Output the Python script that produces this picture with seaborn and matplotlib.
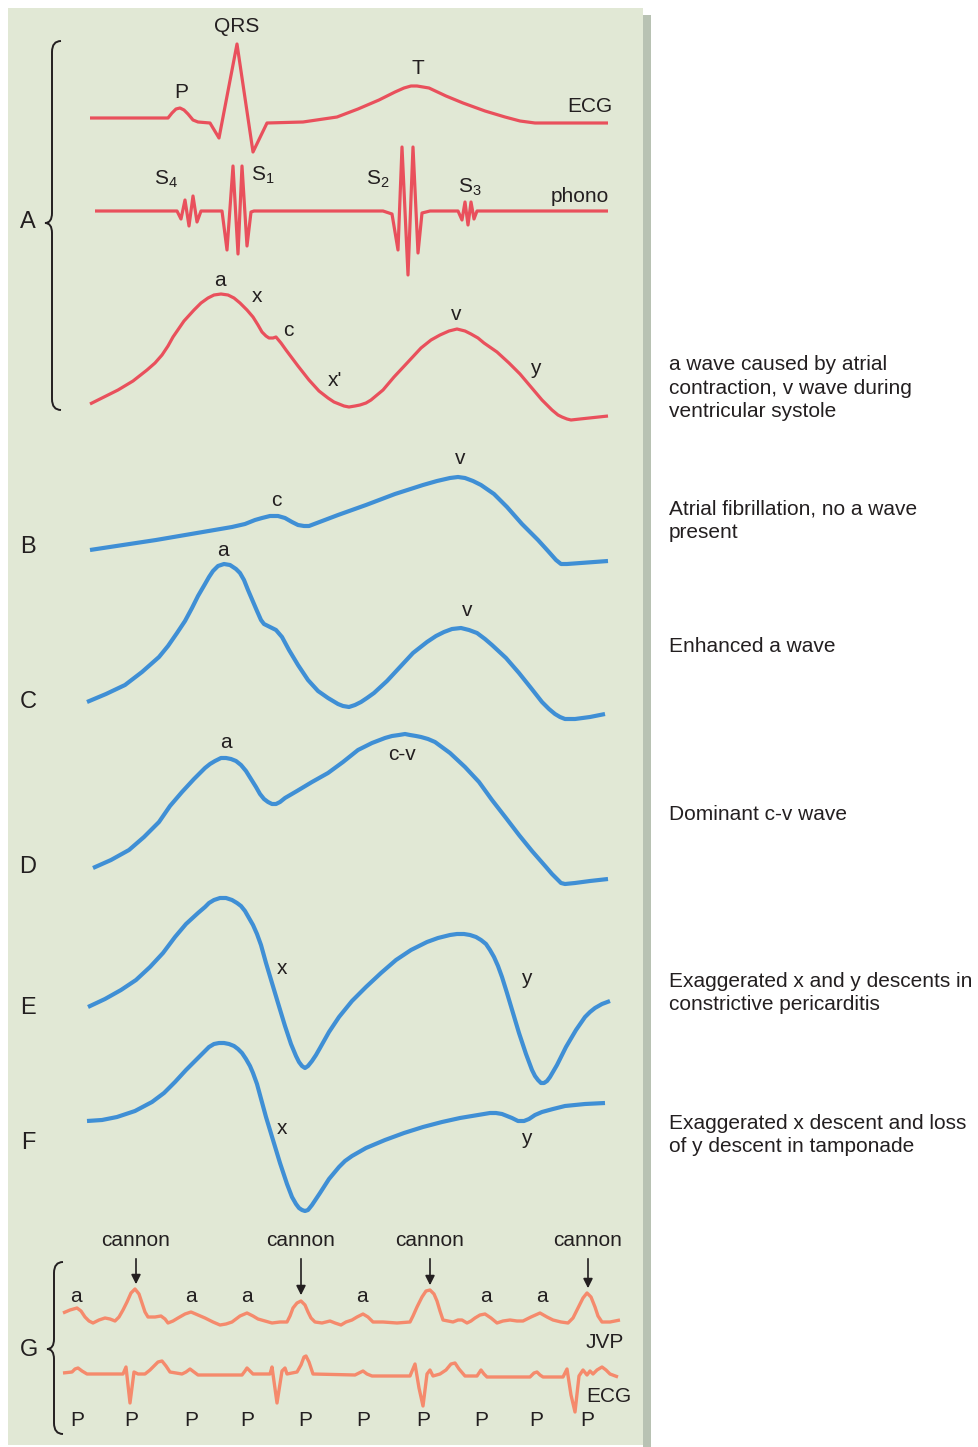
import matplotlib.pyplot as plt
import matplotlib.patches as mpatches
from matplotlib.path import Path
import seaborn as sns

sns.set_theme(style="white")
plt.rcParams["font.family"] = ["Liberation Sans", "DejaVu Sans"]

RED = "#e9505c"
BLUE = "#3f8fd5"
ORANGE = "#f58a6c"
PANEL = "#e1e8d5"
SHADOW = "#b8c2b3"
INK = "#231f20"

# traces as (x, y) pixel pairs

# ---- panel A: ECG, phonocardiogram, normal venous pulse
ecg_a = [(90, 118), (168, 118), (172, 113), (176, 109), (180, 108), (184, 110), (188, 114), (193, 120),
         (198, 122), (210, 123), (219, 138), (237, 44), (253, 152), (267, 123), (303, 122), (337, 117),
         (358, 109), (379, 100), (395, 92), (404, 88), (411, 86), (417, 86), (423, 87), (429, 88),
         (446, 96), (463, 103), (485, 111), (505, 117), (520, 121), (535, 123), (608, 123)]

phono_a = [(95, 211), (177, 211), (181, 219), (185, 200), (189, 226), (193, 196), (197, 222), (201, 211),
           (222, 211), (227, 250), (233, 166), (238, 254), (242, 166), (247, 246), (251, 212), (254, 211),
           (383, 211), (392, 214), (398, 250), (402, 147), (408, 275), (413, 147), (418, 253), (422, 213),
           (430, 211), (458, 211), (462, 220), (465, 202), (468, 225), (471, 202), (474, 219), (477, 211),
           (608, 211)]

jvp_a = [(90, 404), (104, 397), (118, 390), (133, 381), (147, 370), (155, 363), (162, 355), (168, 346),
         (173, 337), (184, 321), (194, 310), (201, 303), (208, 298), (214, 295), (221, 294), (228, 295),
         (234, 298), (240, 303), (247, 310), (253, 317), (258, 325), (262, 332), (266, 336), (269, 338),
         (273, 338), (276, 337), (281, 343), (286, 350), (298, 366), (309, 380), (319, 391), (328, 398),
         (334, 402), (339, 404), (344, 406), (349, 407), (355, 406), (360, 405), (366, 403), (371, 400),
         (377, 395), (383, 390), (394, 377), (408, 362), (421, 348), (431, 340), (440, 335), (449, 331),
         (457, 329), (465, 331), (471, 334), (478, 338), (484, 343), (497, 352), (509, 363), (520, 374),
         (531, 387), (542, 400), (552, 410), (558, 415), (562, 417), (567, 419), (571, 420), (580, 419),
         (608, 416)]

# ---- B: atrial fibrillation
trace_b = [(90, 550), (156, 540), (232, 527), (245, 524), (255, 520), (262, 518), (270, 516), (278, 516),
           (285, 518), (292, 522), (298, 525), (304, 526), (309, 526), (338, 515), (366, 505), (395, 494),
           (423, 485), (437, 481), (450, 478), (458, 477), (465, 478), (473, 481), (481, 485), (494, 494),
           (507, 507), (522, 524), (538, 540), (548, 551), (556, 560), (561, 564), (567, 564), (608, 561)]

# ---- C: enhanced a wave
trace_c = [(87, 702), (106, 694), (125, 685), (142, 672), (159, 657), (168, 646), (177, 633), (185, 621),
           (192, 608), (198, 596), (205, 584), (209, 577), (213, 571), (218, 566), (224, 564), (230, 565),
           (236, 569), (240, 573), (244, 580), (248, 590), (251, 597), (257, 611), (261, 620), (264, 624),
           (270, 627), (276, 630), (282, 637), (289, 650), (298, 665), (308, 680), (318, 691), (328, 698),
           (333, 701), (338, 704), (343, 706), (349, 707), (355, 705), (361, 702), (367, 698), (374, 693),
           (387, 681), (400, 667), (413, 653), (427, 642), (436, 636), (444, 632), (452, 629), (461, 628),
           (469, 630), (477, 633), (485, 639), (492, 645), (506, 658), (519, 673), (531, 688), (542, 702),
           (549, 709), (555, 714), (560, 717), (565, 719), (575, 719), (590, 717), (605, 714)]

# ---- D: dominant c-v wave
trace_d = [(93, 868), (111, 860), (129, 850), (144, 837), (159, 822), (170, 806), (182, 792), (194, 779),
           (205, 768), (210, 764), (215, 761), (221, 758), (226, 758), (231, 759), (236, 761), (241, 765),
           (246, 771), (251, 779), (256, 787), (260, 794), (264, 799), (268, 802), (272, 804), (276, 804),
           (280, 802), (285, 798), (297, 791), (312, 782), (328, 773), (343, 762), (358, 750), (372, 743),
           (385, 738), (392, 736), (399, 735), (405, 734), (410, 735), (416, 736), (421, 737), (428, 739),
           (435, 742), (450, 753), (465, 767), (479, 782), (492, 800), (506, 818), (519, 835), (532, 851),
           (546, 867), (552, 874), (557, 879), (561, 883), (565, 884), (575, 883), (590, 881), (608, 879)]

# ---- E: constrictive pericarditis
trace_e = [(88, 1007), (105, 999), (121, 990), (136, 980), (150, 967), (163, 953), (175, 937), (186, 924),
           (198, 913), (205, 907), (209, 903), (214, 900), (220, 898), (226, 898), (232, 900), (237, 903),
           (241, 906), (245, 911), (249, 918), (253, 925), (257, 934), (261, 945), (266, 963), (272, 983),
           (278, 1003), (285, 1026), (291, 1044), (296, 1056), (299, 1062), (302, 1066), (305, 1068),
           (308, 1066), (312, 1061), (316, 1055), (320, 1048), (329, 1032), (339, 1017), (352, 1001),
           (366, 987), (381, 973), (396, 960), (411, 950), (427, 942), (438, 938), (450, 935), (457, 934),
           (464, 934), (470, 935), (476, 937), (481, 940), (486, 944), (490, 950), (494, 957), (498, 966),
           (502, 977), (507, 993), (513, 1013), (519, 1033), (526, 1054), (532, 1070), (535, 1076),
           (538, 1080), (541, 1083), (544, 1083), (547, 1081), (550, 1077), (557, 1065), (566, 1047),
           (576, 1030), (585, 1017), (590, 1012), (595, 1008), (602, 1004), (610, 1001)]

# ---- F: tamponade
trace_f = [(87, 1121), (102, 1120), (117, 1117), (135, 1111), (152, 1102), (164, 1093), (175, 1082),
           (186, 1070), (198, 1058), (204, 1052), (209, 1047), (214, 1044), (219, 1043), (224, 1043),
           (229, 1044), (234, 1046), (238, 1049), (242, 1053), (246, 1059), (250, 1066), (253, 1073),
           (257, 1084), (260, 1095), (266, 1117), (273, 1140), (280, 1163), (287, 1184), (292, 1197),
           (296, 1204), (299, 1208), (302, 1210), (305, 1211), (308, 1210), (312, 1205), (316, 1199),
           (320, 1193), (329, 1179), (339, 1167), (345, 1161), (352, 1156), (366, 1148), (385, 1140),
           (404, 1133), (423, 1127), (442, 1122), (460, 1118), (478, 1115), (490, 1113), (496, 1113),
           (502, 1114), (507, 1116), (512, 1118), (518, 1121), (524, 1121), (529, 1119), (535, 1115),
           (542, 1112), (553, 1109), (565, 1106), (585, 1104), (605, 1103)]

# ---- G: complete heart block
g_jvp = [(63, 1313), (70, 1310), (77, 1308), (81, 1311), (85, 1317), (89, 1321), (93, 1323), (99, 1320),
         (105, 1318), (110, 1319), (115, 1321), (119, 1317), (123, 1310), (127, 1302), (131, 1293),
         (135, 1289), (139, 1294), (142, 1303), (145, 1312), (148, 1317), (155, 1317), (161, 1316),
         (165, 1319), (168, 1323), (173, 1321), (178, 1318), (185, 1314), (191, 1312), (198, 1315),
         (205, 1318), (213, 1322), (220, 1325), (226, 1324), (232, 1322), (240, 1316), (247, 1313),
         (253, 1316), (258, 1319), (265, 1321), (272, 1323), (280, 1322), (287, 1322), (290, 1316),
         (293, 1308), (297, 1303), (301, 1301), (305, 1305), (308, 1312), (311, 1318), (315, 1322),
         (322, 1323), (330, 1321), (335, 1323), (341, 1325), (346, 1322), (352, 1320), (357, 1317),
         (363, 1314), (368, 1317), (373, 1322), (383, 1322), (397, 1323), (410, 1322), (413, 1316),
         (417, 1307), (422, 1297), (426, 1291), (430, 1290), (434, 1294), (437, 1301), (440, 1311),
         (443, 1320), (453, 1322), (458, 1320), (462, 1320), (467, 1323), (471, 1321), (475, 1318),
         (480, 1315), (485, 1314), (491, 1318), (497, 1323), (503, 1321), (510, 1320), (517, 1321),
         (523, 1321), (531, 1317), (540, 1313), (547, 1317), (553, 1320), (561, 1322), (568, 1323),
         (573, 1318), (578, 1308), (583, 1298), (587, 1293), (591, 1297), (595, 1307), (598, 1316),
         (602, 1322), (610, 1322), (620, 1320)]

g_ecg = [(63, 1373), (72, 1372), (75, 1369), (78, 1368), (82, 1371), (87, 1374), (123, 1374),
         (126, 1367), (130, 1403), (134, 1372), (138, 1374), (145, 1374), (150, 1370), (154, 1366),
         (158, 1362), (162, 1361), (166, 1366), (170, 1372), (182, 1374), (186, 1372), (190, 1369),
         (194, 1372), (198, 1375), (242, 1375), (245, 1371), (247, 1368), (250, 1371), (253, 1374),
         (270, 1374), (272, 1367), (277, 1403), (282, 1371), (285, 1368), (287, 1374), (297, 1372),
         (301, 1365), (304, 1357), (306, 1356), (309, 1362), (313, 1374), (355, 1375), (359, 1373),
         (363, 1371), (367, 1374), (372, 1376), (410, 1376), (415, 1364), (419, 1388), (423, 1406),
         (427, 1374), (430, 1370), (433, 1376), (440, 1374), (446, 1370), (451, 1364), (455, 1363),
         (459, 1369), (465, 1376), (477, 1376), (481, 1370), (484, 1374), (487, 1377), (530, 1377),
         (534, 1373), (537, 1372), (540, 1375), (543, 1377), (563, 1377), (567, 1369), (571, 1395),
         (575, 1412), (579, 1376), (583, 1370), (587, 1375), (590, 1371), (593, 1374), (597, 1370),
         (602, 1367), (606, 1370), (610, 1374), (618, 1377)]

cannon_x = [136, 301, 430, 588]
cannon_tip = [1287, 1298, 1288, 1291]
g_a_x = [76, 191, 247, 362, 486, 542]
g_p_x = [77, 131, 191, 247, 305, 363, 423, 481, 536, 587]

row_letters = ["B", "C", "D", "E", "F"]
row_letter_y = [547, 702, 867, 1008, 1143]

notes = [
    "a wave caused by atrial\ncontraction, v wave during\nventricular systole",
    "Atrial fibrillation, no a wave\npresent",
    "Enhanced a wave",
    "Dominant c-v wave",
    "Exaggerated x and y descents in\nconstrictive pericarditis",
    "Exaggerated x descent and loss\nof y descent in tamponade",
]
note_y = [388, 521, 646, 814, 993, 1135]

W, H = 979, 1447
fig = plt.figure(figsize=(W / 100, H / 100), dpi=100)
fig.patch.set_facecolor("white")
ax = fig.add_axes([0, 0, 1, 1])
ax.set_facecolor("white")

ax.add_patch(mpatches.Rectangle((643, 15), 8, 1432, color=SHADOW, lw=0, zorder=0))
ax.add_patch(mpatches.Rectangle((8, 8), 635, 1437, color=PANEL, lw=0, zorder=0))


def trace(pts, color, lw):
    xs = [p[0] for p in pts]
    ys = [p[1] for p in pts]
    sns.lineplot(x=xs, y=ys, sort=False, estimator=None, color=color, lw=lw, ax=ax,
                 solid_joinstyle="round", solid_capstyle="butt", zorder=3)


trace(ecg_a, RED, 2.3)
trace(phono_a, RED, 2.3)
trace(jvp_a, RED, 2.3)
for pts in [trace_b, trace_c, trace_d, trace_e, trace_f]:
    trace(pts, BLUE, 3.0)
trace(g_jvp, ORANGE, 2.4)
trace(g_ecg, ORANGE, 2.4)

fs = 15


def label(x, y, s, size=fs, **kw):
    ax.text(x, y, s, fontsize=size, color=INK, ha="center", va="center", **kw)


# panel A annotations
label(237, 27, "QRS")
label(181, 92, "P")
label(418, 68, "T")
label(590, 106, "ECG")
label(580, 197, "phono")
label(166, 179, r"S$_\mathregular{4}$")
label(263, 175, r"S$_\mathregular{1}$")
label(378, 179, r"S$_\mathregular{2}$")
label(470, 187, r"S$_\mathregular{3}$")
label(220, 280, "a")
label(257, 297, "x")
label(288, 331, "c")
label(335, 380, "x'")
label(456, 315, "v")
label(535, 369, "y")

# B-F annotations
label(276, 500, "c")
label(460, 459, "v")
label(223, 550, "a")
label(467, 611, "v")
label(226, 743, "a")
label(402, 754, "c-v")
label(282, 969, "x")
label(526, 978, "y")
label(282, 1129, "x")
label(526, 1138, "y")

# G annotations
for cx, tip in zip(cannon_x, cannon_tip):
    label(cx, 1241, "cannon")
    ax.annotate("", xy=(cx, tip), xytext=(cx, 1256),
                arrowprops=dict(arrowstyle="-|>", color=INK, lw=1.2, mutation_scale=14))
for gx in g_a_x:
    label(gx, 1296, "a")
for px in g_p_x:
    label(px, 1421, "P")
label(605, 1342, "JVP")
label(609, 1396, "ECG")

# row letters
label(28, 222, "A", size=17)
label(29, 1350, "G", size=17)
for s, yy in zip(row_letters, row_letter_y):
    label(28, yy, s, size=17)

for s, yy in zip(notes, note_y):
    ax.text(669, yy, s, fontsize=fs, color=INK, ha="left", va="center", linespacing=1.33)


def brace(top, bottom, tip, x=52, dx=9, depth=7):
    verts = [(x + dx, top), (x, top), (x, top + 11),
             (x, tip - 10), (x, tip), (x - depth, tip),
             (x, tip), (x, tip + 10),
             (x, bottom - 11), (x, bottom), (x + dx, bottom)]
    codes = [Path.MOVETO, Path.CURVE3, Path.CURVE3,
             Path.LINETO, Path.CURVE3, Path.CURVE3,
             Path.CURVE3, Path.CURVE3,
             Path.LINETO, Path.CURVE3, Path.CURVE3]
    ax.add_patch(mpatches.PathPatch(Path(verts, codes), fill=False, lw=1.4, ec=INK, zorder=4))


brace(41, 410, 223)
brace(1262, 1434, 1349, x=54)

ax.set_xlim(0, W)
ax.set_ylim(H, 0)
ax.axis("off")
fig.savefig("out.png", dpi=100, facecolor="white")
